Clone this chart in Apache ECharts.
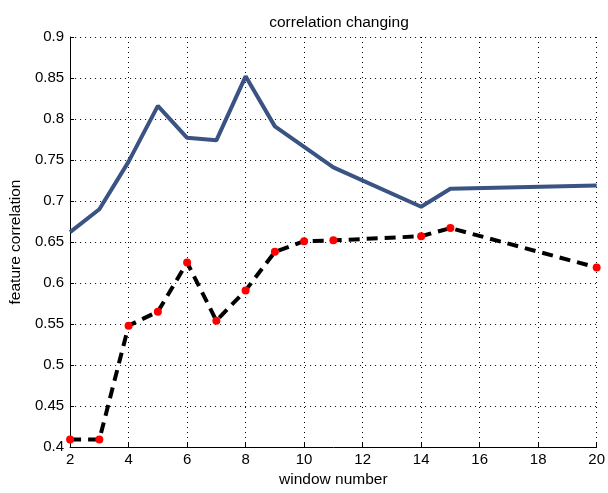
<!DOCTYPE html>
<html><head><meta charset="utf-8">
<script src="https://cdn.jsdelivr.net/npm/echarts@6/dist/echarts.min.js"></script>
<style>html,body{margin:0;padding:0;background:#fff}#c{width:608px;height:493px}</style>
</head><body><div id="c"></div>
<script>
const windows = [2, 3, 4, 5, 6, 7, 8, 9, 10, 11, 14, 15, 20];
const blueValues = [0.662, 0.690, 0.748, 0.816, 0.777, 0.774, 0.852, 0.791, 0.766, 0.741, 0.693, 0.715, 0.719];
const dashedValues = [0.409, 0.409, 0.548, 0.565, 0.625, 0.554, 0.591, 0.638, 0.651, 0.652, 0.657, 0.667, 0.619];
const titleText = 'correlation changing';
const xName = 'window number';
const yName = 'feature correlation';

const font = 'Liberation Sans, Arial, sans-serif';
const chart = echarts.init(document.getElementById('c'));
const gridLine = {show: true, lineStyle: {color: '#000', type: [1, 4], width: 1}};
chart.setOption({
  animation: false,
  title: {text: titleText, left: 334, top: 10, textAlign: 'center',
    textStyle: {fontFamily: font, fontSize: 15.5, fontWeight: 'normal', color: '#000'}},
  grid: {left: 70, right: 10, top: 37, bottom: 41, containLabel: false},
  xAxis: {type: 'value', min: 2, max: 20, interval: 2,
    name: xName, nameLocation: 'middle', nameGap: 25,
    nameTextStyle: {fontFamily: font, fontSize: 15.5, color: '#000'},
    axisLine: {show: true, onZero: false, lineStyle: {color: '#000', width: 1}},
    axisTick: {show: true, inside: true, length: 4, lineStyle: {color: '#000'}},
    axisLabel: {fontFamily: font, fontSize: 15, color: '#000', margin: 5},
    splitLine: gridLine},
  yAxis: {type: 'value', min: 0.4, max: 0.9, interval: 0.05,
    name: yName, nameLocation: 'middle', nameGap: 44, nameRotate: 90,
    nameTextStyle: {fontFamily: font, fontSize: 15.5, color: '#000'},
    axisLine: {show: true, lineStyle: {color: '#000', width: 1}},
    axisTick: {show: true, inside: true, length: 4, lineStyle: {color: '#000'}},
    axisLabel: {fontFamily: font, fontSize: 15, color: '#000', margin: 6,
      formatter: v => String(parseFloat(v.toFixed(2)))},
    splitLine: gridLine},
  series: [
    {type: 'line', data: windows.map((x, i) => [x, blueValues[i]]),
      showSymbol: false, symbol: 'none',
      lineStyle: {color: '#3a5383', width: 4}, z: 3},
    {type: 'line', data: windows.map((x, i) => [x, dashedValues[i]]),
      symbol: 'circle', symbolSize: 8,
      itemStyle: {color: '#ff0000', borderWidth: 0},
      lineStyle: {color: '#000', width: 4, type: [11, 7]}, z: 4}
  ]
});
</script></body></html>
